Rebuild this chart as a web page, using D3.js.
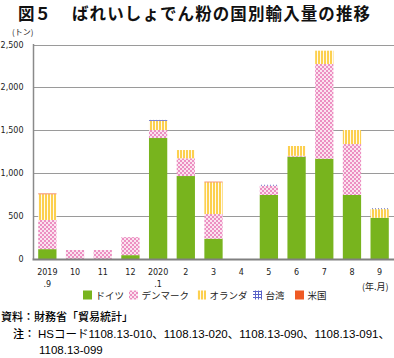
<!DOCTYPE html>
<html><head><meta charset="utf-8">
<script src="https://cdn.jsdelivr.net/npm/d3@7/dist/d3.min.js"></script>
<style>
html,body{margin:0;padding:0;background:#fff;}
svg{display:block;}
</style></head>
<body>
<svg id="c" width="394" height="358"></svg>
<script>
const labels1 = ["2019","10","11","12","2020","2","3","4","5","6","7","8","9"];
const labels2 = [".9","","","",".1","","","","","","","",""];
const germany     = [115,0,0,45,1410,967,237,0,746,1193,1169,746,481];
const denmark     = [340,105,105,210,93,207,287,0,109,10,1104,594,0];
const netherlands = [300,0,0,0,108,96,370,0,0,114,155,163,100];
const taiwan      = [0,0,0,0,10,0,0,0,10,0,0,0,10];
const usa         = [8,0,0,0,0,0,7,0,0,0,0,0,0];
const seriesNames = ["ドイツ","デンマーク","オランダ","台湾","米国"];
const yTicks = [0,500,1000,1500,2000,2500];

const svg = d3.select("#c");
const defs = svg.append("defs");
const pDk = defs.append("pattern").attr("id","pDk").attr("patternUnits","userSpaceOnUse").attr("width",4).attr("height",4);
pDk.append("rect").attr("width",4).attr("height",4).attr("fill","#fbe3ef");
pDk.append("rect").attr("x",0).attr("y",0).attr("width",2).attr("height",2).attr("fill","#ec8fc2");
pDk.append("rect").attr("x",2).attr("y",2).attr("width",2).attr("height",2).attr("fill","#ec8fc2");
const pNl = defs.append("pattern").attr("id","pNl").attr("patternUnits","userSpaceOnUse").attr("width",3).attr("height",3);
pNl.append("rect").attr("width",3).attr("height",3).attr("fill","#fffaf0");
pNl.append("rect").attr("x",0).attr("width",2).attr("height",3).attr("fill","#fcd04f");
const pTw = defs.append("pattern").attr("id","pTw").attr("patternUnits","userSpaceOnUse").attr("width",3).attr("height",3);
pTw.append("rect").attr("width",3).attr("height",3).attr("fill","#fff");
pTw.append("rect").attr("width",1).attr("height",3).attr("fill","#5a63c8");
pTw.append("rect").attr("width",3).attr("height",1).attr("fill","#5a63c8");
const fills = ["#78b41e","url(#pDk)","url(#pNl)","url(#pTw)","#ef5a24"];

const x = d3.scaleBand().domain(d3.range(labels1.length)).range([33.5,393.5]).paddingInner(0.34).paddingOuter(0.17);
const y = d3.scaleLinear().domain([0,2500]).range([259,44.5]);

const cjk = "'Noto Sans CJK JP'";
const mixed = "'Liberation Sans','Noto Sans CJK JP'";
// title
svg.append("text").attr("x",18).attr("y",19.5).attr("font-family",cjk).attr("font-weight","bold").attr("font-size",16.5).attr("fill","#111").text("図５");
svg.append("text").attr("x",72).attr("y",19.5).attr("font-family",cjk).attr("font-weight","bold").attr("font-size",16.5)
  .attr("textLength",298).attr("lengthAdjust","spacing").attr("fill","#111").text("ばれいしょでん粉の国別輸入量の推移");
svg.append("text").attr("x",12).attr("y",35).attr("font-family",cjk).attr("font-size",8).attr("fill","#222").text("(トン)");

// grid
svg.append("g").selectAll("line").data(yTicks.filter(d=>d>0)).join("line")
  .attr("x1",33.5).attr("x2",394).attr("y1",d=>Math.round(y(d))+0.5).attr("y2",d=>Math.round(y(d))+0.5)
  .attr("stroke","#9a9a9a").attr("stroke-width",1);

// y axis
const yAxis = d3.axisLeft(y).tickValues(yTicks).tickSize(0).tickPadding(10).tickFormat(d3.format(","));
const ga = svg.append("g").attr("transform","translate(33.5,0)").call(yAxis);
ga.select(".domain").remove();
ga.selectAll("text").attr("font-family","'DejaVu Sans'").attr("font-size",8).attr("fill","#222");

// stacks
const stackData = labels1.map((l,i)=>({i, a:germany[i], b:denmark[i], c:netherlands[i], d:taiwan[i], e:usa[i]}));
const stack = d3.stack().keys(["a","b","c","d","e"])(stackData);
svg.append("g").selectAll("g").data(stack).join("g").attr("fill",(d,k)=>fills[k])
  .selectAll("rect").data(d=>d).join("rect")
  .attr("x",d=>x(d.data.i)).attr("width",x.bandwidth())
  .attr("y",d=>y(d[1])).attr("height",d=>Math.max(0,y(d[0])-y(d[1])));

// axes lines
svg.append("line").attr("x1",33.5).attr("x2",33.5).attr("y1",44).attr("y2",259).attr("stroke","#8a8a8a").attr("stroke-width",1.5);
svg.append("line").attr("x1",32.5).attr("x2",394).attr("y1",259.5).attr("y2",259.5).attr("stroke","#808080").attr("stroke-width",2);

// x labels
const xl = svg.append("g").attr("font-family","'DejaVu Sans'").attr("font-size",8).attr("fill","#222").attr("text-anchor","middle");
xl.selectAll("text.l1").data(labels1).join("text").attr("class","l1")
  .attr("x",(d,i)=>x(i)+x.bandwidth()/2).attr("y",275).text(d=>d);
xl.selectAll("text.l2").data(labels2).join("text").attr("class","l2")
  .attr("x",(d,i)=>x(i)+x.bandwidth()/2).attr("y",287).text(d=>d);
svg.append("text").attr("x",362).attr("y",289.5).attr("font-family",cjk).attr("font-size",9).attr("fill","#222").text("(年.月)");

// legend
const legX = [83,129,197,253,295];
const lg = svg.append("g");
seriesNames.forEach((n,k)=>{
  lg.append("rect").attr("x",legX[k]).attr("y",290.5).attr("width",9).attr("height",9).attr("fill",fills[k]);
  lg.append("text").attr("x",legX[k]+12.5).attr("y",298.5).attr("font-family",cjk).attr("font-size",9.5).attr("fill","#222").text(n);
});

// notes
svg.append("text").attr("x",1).attr("y",321).attr("font-family",cjk).attr("font-weight",500).attr("font-size",11).attr("fill","#000").text("資料：財務省「貿易統計」");
svg.append("text").attr("x",13).attr("y",338).attr("font-family",cjk).attr("font-weight",500).attr("font-size",11).attr("fill","#000").text("注：");
svg.append("text").attr("x",38).attr("y",338).attr("font-family",mixed).attr("font-size",11.5)
  .attr("textLength",352).attr("lengthAdjust","spacing").attr("fill","#000").text("HSコード1108.13-010、1108.13-020、1108.13-090、1108.13-091、");
svg.append("text").attr("x",39).attr("y",354).attr("font-family",mixed).attr("font-size",11.5).attr("fill","#000").text("1108.13-099");
</script>
</body></html>
